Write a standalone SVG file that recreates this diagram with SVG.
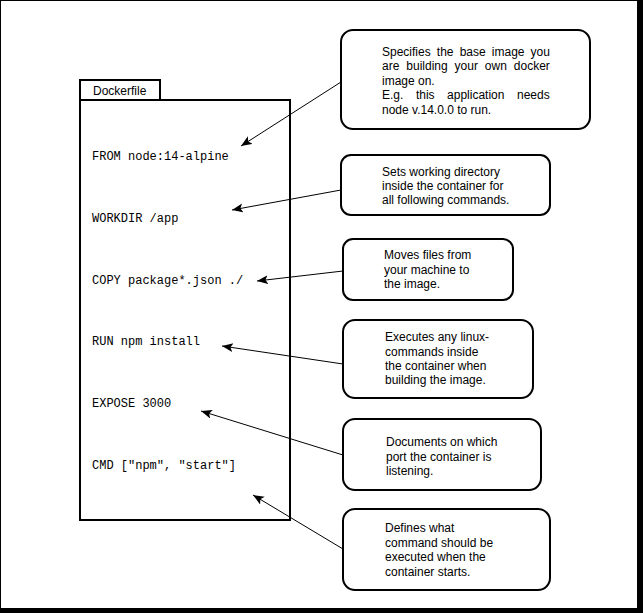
<svg xmlns="http://www.w3.org/2000/svg" width="643" height="613" viewBox="0 0 643 613">
<style>
.box{fill:#fff;stroke:#000;stroke-width:2}
.note{fill:#fff;stroke:#000;stroke-width:2}
.lbl{font-family:"Liberation Sans",Arial,sans-serif;font-size:12px;fill:#000}
.code{font-family:"Liberation Mono","Courier New",monospace;font-size:12px;fill:#000}
.conn{fill:none;stroke:#000;stroke-width:1}
</style>
<defs>
<marker id="arr" markerUnits="userSpaceOnUse" markerWidth="12" markerHeight="10" refX="11" refY="4.5" orient="auto">
<path d="M0,0 L11,4.5 L0,9 L2.5,4.5 Z" fill="#000"/>
</marker>
</defs>
<rect x="0" y="0" width="643" height="613" fill="#000"/>
<rect x="1" y="1" width="636" height="607" fill="#fff"/>

<g id="dockerfile">
<rect class="box" x="80" y="80" width="80" height="20"/>
<rect class="box" x="80" y="100" width="210" height="420"/>
<text class="lbl" x="93" y="95">Dockerfile</text>
<text class="code" x="92" y="160">FROM node:14-alpine</text>
<text class="code" x="92" y="222">WORKDIR /app</text>
<text class="code" x="92" y="284">COPY package*.json ./</text>
<text class="code" x="92" y="345">RUN npm install</text>
<text class="code" x="92" y="407">EXPOSE 3000</text>
<text class="code" x="92" y="469">CMD ["npm", "start"]</text>
</g>

<g id="note-from">
<rect class="note" x="341" y="30" width="249" height="99" rx="12" ry="12"/>
<text class="lbl"><tspan x="382" y="56" word-spacing="2.8">Specifies the base image you</tspan><tspan x="382" y="70.4" word-spacing="3.6">are building your own docker</tspan><tspan x="382" y="84.8">image on.</tspan><tspan x="382" y="99.2" word-spacing="9.2">E.g. this application needs</tspan><tspan x="382" y="113.6">node v.14.0.0 to run.</tspan></text>
</g>

<g id="note-workdir">
<rect class="note" x="341" y="155" width="209" height="60" rx="10" ry="10"/>
<text class="lbl"><tspan x="382" y="175.5">Sets working directory</tspan><tspan x="382" y="189.7">inside the container for</tspan><tspan x="382" y="204">all following commands.</tspan></text>
</g>

<g id="note-copy">
<rect class="note" x="343" y="239" width="170" height="61" rx="10" ry="10"/>
<text class="lbl"><tspan x="384" y="259">Moves files from</tspan><tspan x="384" y="273.5">your machine to</tspan><tspan x="384" y="288">the image.</tspan></text>
</g>

<g id="note-run">
<rect class="note" x="343" y="320" width="190" height="78" rx="12" ry="12"/>
<text class="lbl"><tspan x="385" y="341">Executes any linux-</tspan><tspan x="385" y="355.5">commands inside</tspan><tspan x="385" y="369.5">the container when</tspan><tspan x="385" y="383.5">building the image.</tspan></text>
</g>

<g id="note-expose">
<rect class="note" x="343" y="419" width="198" height="71" rx="12" ry="12"/>
<text class="lbl"><tspan x="386" y="446">Documents on which</tspan><tspan x="386" y="460.5">port the container is</tspan><tspan x="386" y="475">listening.</tspan></text>
</g>

<g id="note-cmd">
<rect class="note" x="343" y="509" width="207" height="81" rx="12" ry="12"/>
<text class="lbl"><tspan x="385" y="532">Defines what</tspan><tspan x="385" y="546.5">command should be</tspan><tspan x="385" y="561">executed when the</tspan><tspan x="385" y="575.5">container starts.</tspan></text>
</g>

<g id="connectors">
<line class="conn" x1="341" y1="82" x2="241" y2="146" marker-end="url(#arr)"/>
<line class="conn" x1="341" y1="190" x2="232" y2="210" marker-end="url(#arr)"/>
<line class="conn" x1="343" y1="271" x2="257" y2="281" marker-end="url(#arr)"/>
<line class="conn" x1="343" y1="364" x2="222" y2="346" marker-end="url(#arr)"/>
<line class="conn" x1="343" y1="455" x2="201" y2="411" marker-end="url(#arr)"/>
<line class="conn" x1="343" y1="549" x2="253" y2="495" marker-end="url(#arr)"/>
</g>
</svg>
